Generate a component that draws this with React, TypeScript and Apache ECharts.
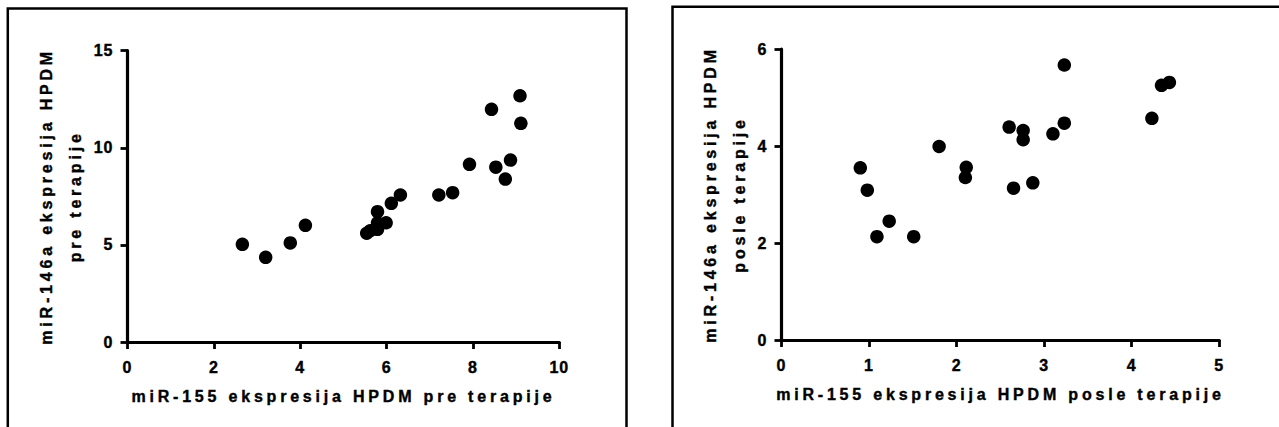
import React, { useEffect, useRef } from "react";
import * as echarts from "echarts";

// Left panel: before therapy
const preX = [2.66, 3.2, 3.77, 4.12, 5.54, 5.62, 5.79, 5.79, 5.99, 5.79, 6.11, 6.32, 7.21, 7.53, 7.92, 8.53, 8.87, 8.75, 8.43, 9.09, 9.11];
const preY = [5.03, 4.36, 5.1, 6.01, 5.6, 5.73, 5.8, 6.14, 6.14, 6.71, 7.14, 7.57, 7.57, 7.69, 9.15, 9.0, 9.37, 8.39, 11.98, 12.68, 11.26];

// Right panel: after therapy
const postX = [0.9, 0.98, 1.09, 1.23, 1.51, 1.8, 2.11, 2.1, 2.6, 2.76, 2.76, 2.65, 2.87, 3.1, 3.23, 3.23, 4.23, 4.34, 4.43];
const postY = [3.55, 3.09, 2.13, 2.45, 2.13, 3.99, 3.56, 3.35, 4.39, 4.32, 4.13, 3.13, 3.24, 4.25, 4.47, 5.67, 4.57, 5.25, 5.31];

const xTitlePre = "miR-155 ekspresija HPDM pre terapije";
const yTitlePre = "miR-146a ekspresija HPDM\npre terapije";
const xTitlePost = "miR-155 ekspresija HPDM posle terapije";
const yTitlePost = "miR-146a ekspresija HPDM\nposle terapije";

const FONT = "'Liberation Sans', Arial, Helvetica, sans-serif";
const TITLE_SPACING = 3.8;
const TICK_SPACING = 1;

function axisCommon() {
  return {
    axisLine: { show: true, onZero: false, lineStyle: { color: "#000", width: 3.2 } },
    axisTick: { show: true, inside: false, length: 7, lineStyle: { color: "#000", width: 2.8 } },
    splitLine: { show: false },
    axisLabel: {
      color: "#000",
      fontFamily: FONT,
      fontWeight: "bold" as const,
      fontSize: 16,
      textBorderColor: "#000",
      textBorderWidth: 0.4,
    },
    nameTextStyle: {
      color: "#000",
      fontFamily: FONT,
      fontWeight: "bold" as const,
      fontSize: 16,
      textBorderColor: "#000",
      textBorderWidth: 0.4,
    },
  };
}

export default function App() {
  const ref = useRef<HTMLDivElement>(null);
  useEffect(() => {
    if (!ref.current) return;
    const chart = echarts.init(ref.current, undefined, { renderer: "svg" });
    const c = axisCommon();
    chart.setOption({
      animation: false,
      backgroundColor: "#fff",
      grid: [
        { left: 127.5, top: 50.7, width: 431.8, height: 291.3 },
        { left: 781.5, top: 49, width: 437.8, height: 291 },
      ],
      xAxis: [
        {
          ...c,
          gridIndex: 0,
          type: "value",
          min: 0,
          max: 10,
          interval: 2,
          name: xTitlePre,
          nameLocation: "middle",
          nameGap: 46,
          axisLabel: { ...c.axisLabel, margin: 17 },
        },
        {
          ...c,
          gridIndex: 1,
          type: "value",
          min: 0,
          max: 5,
          interval: 1,
          name: xTitlePost,
          nameLocation: "middle",
          nameGap: 46,
          axisLabel: { ...c.axisLabel, margin: 17 },
        },
      ],
      yAxis: [
        {
          ...c,
          gridIndex: 0,
          type: "value",
          min: 0,
          max: 15,
          interval: 5,
          name: yTitlePre,
          nameLocation: "middle",
          nameRotate: 90,
          nameGap: 38,
          nameTextStyle: { ...c.nameTextStyle, lineHeight: 29 },
          axisLabel: { ...c.axisLabel, margin: 14 },
        },
        {
          ...c,
          gridIndex: 1,
          type: "value",
          min: 0,
          max: 6,
          interval: 2,
          name: yTitlePost,
          nameLocation: "middle",
          nameRotate: 90,
          nameGap: 28,
          nameTextStyle: { ...c.nameTextStyle, lineHeight: 29 },
          axisLabel: { ...c.axisLabel, margin: 14 },
        },
      ],
      graphic: [
        {
          type: "rect",
          shape: { x: 7.8, y: 8.5, width: 618.7, height: 500 },
          style: { fill: "none", stroke: "#000", lineWidth: 2.5 },
          silent: true,
        },
        {
          type: "rect",
          shape: { x: 672.5, y: 6.8, width: 700, height: 500 },
          style: { fill: "none", stroke: "#000", lineWidth: 2.5 },
          silent: true,
        },
      ],
      series: [
        {
          type: "scatter",
          xAxisIndex: 0,
          yAxisIndex: 0,
          symbol: "circle",
          symbolSize: 13.5,
          itemStyle: { color: "#000", opacity: 1 },
          data: preX.map((x, i) => [x, preY[i]]),
        },
        {
          type: "scatter",
          xAxisIndex: 1,
          yAxisIndex: 1,
          symbol: "circle",
          symbolSize: 13.5,
          itemStyle: { color: "#000", opacity: 1 },
          data: postX.map((x, i) => [x, postY[i]]),
        },
      ],
    });
    const applySpacing = () => {
      const el = ref.current;
      if (!el) return;
      el.querySelectorAll("text").forEach((t) => {
        const s = (t.textContent || "").trim();
        t.setAttribute("letter-spacing", String(s.length > 3 ? TITLE_SPACING : TICK_SPACING));
      });
    };
    applySpacing();
    chart.on("finished", applySpacing);
    const t1 = setTimeout(applySpacing, 0);
    const t2 = setTimeout(applySpacing, 200);
    return () => {
      clearTimeout(t1);
      clearTimeout(t2);
      chart.dispose();
    };
  }, []);
  return (
    <div
      ref={ref}
      style={{ position: "absolute", left: 0, top: 0, width: 1279, height: 427, background: "#fff" }}
    />
  );
}
